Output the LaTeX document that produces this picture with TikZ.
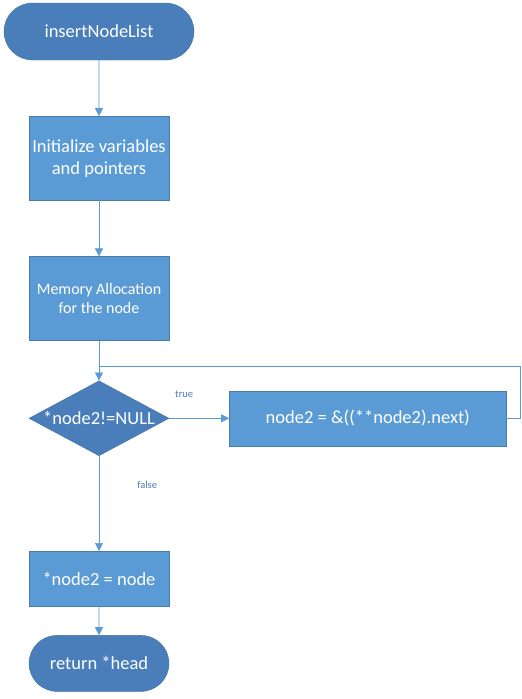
\documentclass[tikz,border=0pt]{standalone}
\usepackage{fontspec}
\setmainfont{Carlito}
\usetikzlibrary{positioning,shapes.geometric,shapes.misc,arrows.meta}

\definecolor{boxblue}{HTML}{5B9BD5}
\definecolor{darkblue}{HTML}{4A7EBB}
\definecolor{lineblue}{HTML}{41719C}

\begin{document}
\begin{tikzpicture}[
  font=\fontsize{18.5pt}{22pt}\selectfont,
  base/.style={text=white, align=center, inner sep=0pt},
  term/.style={base, rounded rectangle, fill=darkblue, draw=lineblue, thin, minimum width=190pt, minimum height=57pt},
  proc/.style={base, rectangle, fill=boxblue, draw=boxblue!80!black, very thin, minimum width=140pt, minimum height=84pt},
  test/.style={base, diamond, fill=darkblue, draw=lineblue, thin, aspect=1.87, minimum width=140pt, minimum height=75pt},
  lbl/.style={font=\fontsize{10.5pt}{12pt}\selectfont, text=darkblue, inner sep=0pt},
  arr/.style={-{Triangle[width=8pt,length=8pt]}, boxblue, semithick},
  line/.style={boxblue, semithick}
]
\useasboundingbox (0,0) rectangle (522pt,-699pt);

\node[term] (start) at (99pt,-31.5pt) {insertNodeList};
\node[proc, below=56pt of start] (init) {Initialize variables\\and pointers};
\node[proc, below=56pt of init, font=\fontsize{16pt}{19pt}\selectfont] (mem) {Memory Allocation\\for the node};
\coordinate[below=26pt of mem] (join);
\node[test, below=40pt of mem] (cond) {*node2!=NULL};
\node[proc, right=60pt of cond, minimum width=277pt, minimum height=55pt] (next) {node2 = \&((**node2).next)};
\node[proc, below=95pt of cond, minimum height=55pt] (set) {*node2 = node};
\node[term, below=29pt of set, minimum width=140pt, minimum height=56pt] (stop) {return *head};

\draw[arr] (start) -- (init);
\draw[arr] (init) -- (mem);
\draw[arr] (mem) -- (cond);
\draw[arr] (cond) -- node[lbl, pos=0.25, above=20pt] {true} (next);
\draw[line] (next.east) -- ++(14pt,0) |- (join);
\draw[arr] (cond) -- node[lbl, pos=0.3, right=38pt] {false} (set);
\draw[arr] (set) -- (stop);
\end{tikzpicture}
\end{document}
